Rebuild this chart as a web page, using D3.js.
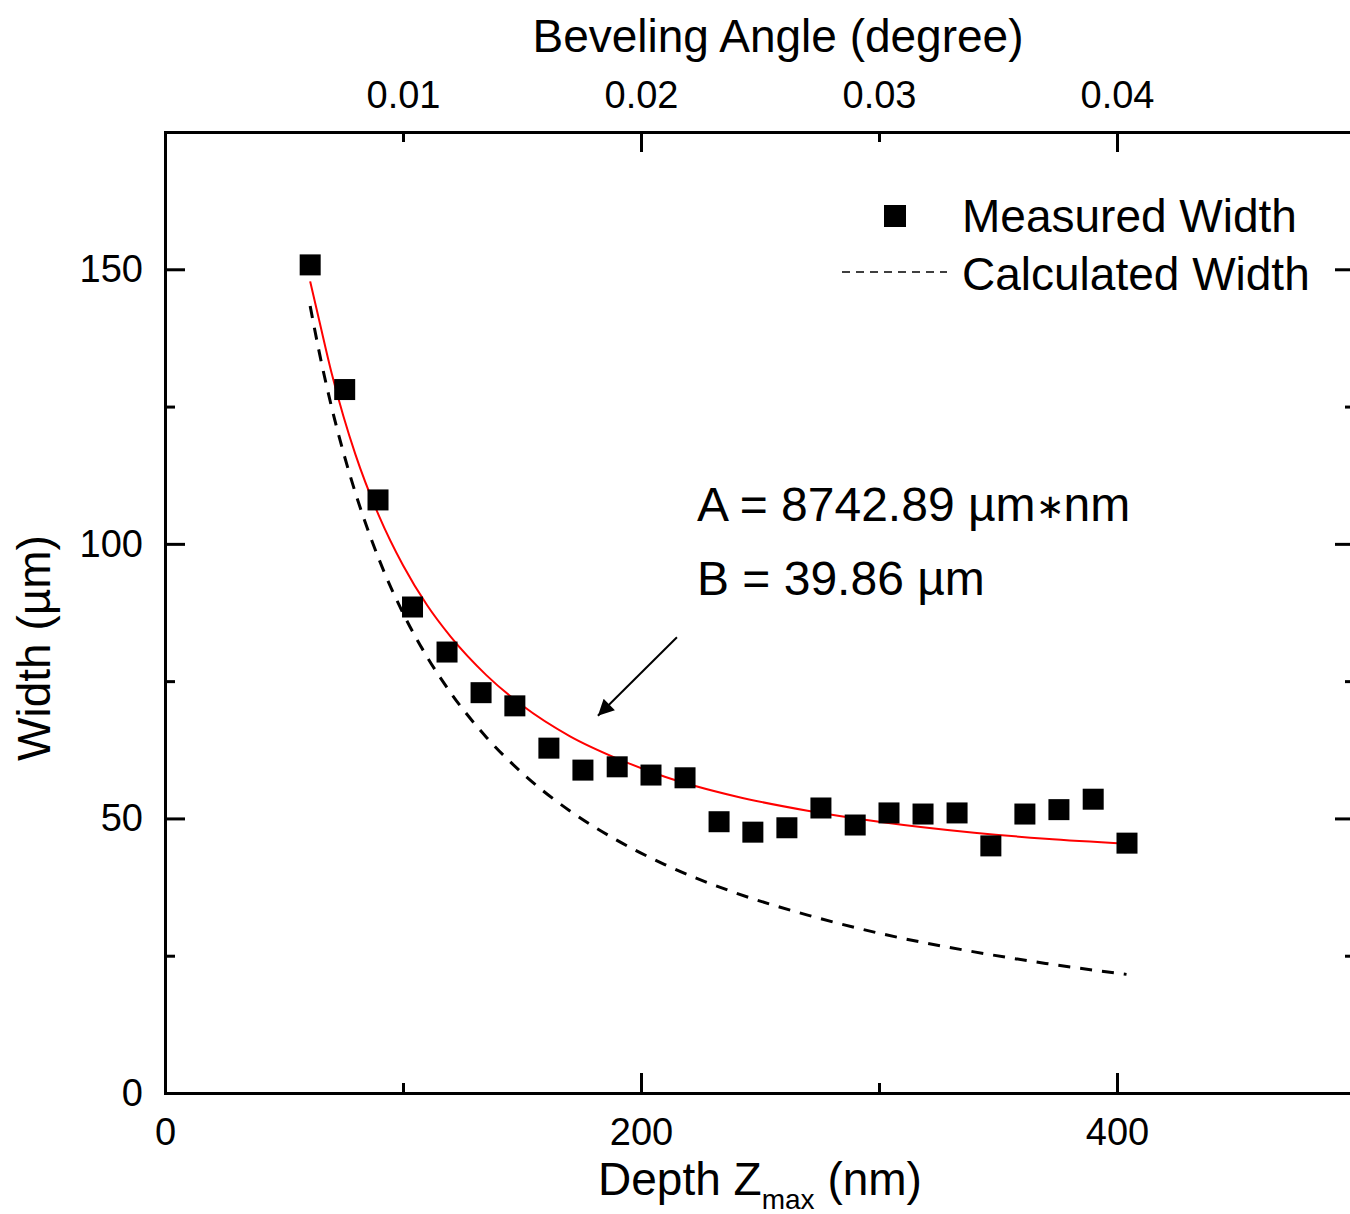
<!DOCTYPE html>
<html lang="en">
<head>
<meta charset="utf-8">
<title>Width vs Depth</title>
<script src="https://cdn.jsdelivr.net/npm/d3@7"></script>
<style>
  body { margin: 0; background: white; }
  svg { display: block; background: white; font-family: "Liberation Sans", Arial, sans-serif; }
  .axis path, .axis line { stroke: black; stroke-width: 3; fill: none; }
  .axis text { font-size: 38px; fill: black; font-family: "Liberation Sans", Arial, sans-serif; }
  .title { font-size: 46px; fill: black; }
</style>
</head>
<body>
<svg id="chart" width="1350" height="1214"></svg>
<script>
// measured points: depth (nm) and width (um)
var depth = [61, 75.5, 89.5, 104, 118.5, 132.8, 147, 161.3, 175.6, 190, 204.2, 218.5, 232.8,
             247, 261.3, 275.6, 290, 304.2, 318.5, 332.8, 347, 361.3, 375.6, 390, 404.2];
var width = [150.8, 128.1, 108.0, 88.5, 80.3, 72.9, 70.5, 62.8, 58.8, 59.4, 57.9, 57.4, 49.4,
             47.5, 48.3, 51.9, 48.8, 51.0, 50.8, 51.0, 45.0, 50.8, 51.6, 53.5, 45.5];

// fit curve (red) and calculated width (dashed)
var curveDepth = [61, 65, 70, 75, 80, 90, 100, 110, 120, 135, 150, 170, 190, 210, 240, 270, 300, 340, 370, 404];
var fitWidth   = [147.8, 140.3, 131.1, 123.2, 116.3, 105.0, 96.1, 88.9, 83.1, 76.1, 70.6, 65.0, 60.9, 57.6, 54.0, 51.4, 49.4, 47.4, 46.3, 45.4];
var calcWidth  = [143.3, 134.5, 124.9, 116.6, 109.3, 97.1, 87.4, 79.5, 72.9, 64.8, 58.3, 51.4, 46.0, 41.6, 36.4, 32.4, 29.1, 25.7, 23.6, 21.6];

var xMajor = [0, 200, 400], xMinor = [100, 300];
var yMajor = [0, 50, 100, 150], yMinor = [25, 75, 125];
var topMajor = [0.02, 0.04], topMinor = [0.01, 0.03];

var plotLeft = 165, plotRight = 1355, plotTop = 132, plotBottom = 1093;

var svg = d3.select("#chart");

var x = d3.scaleLinear().domain([0, 500]).range([plotLeft, plotRight]);
var xTop = d3.scaleLinear().domain([0, 0.05]).range([plotLeft, plotRight]);
var y = d3.scaleLinear().domain([0, 175]).range([plotBottom, plotTop]);

// axes: ticks point inward
svg.append("g").attr("class", "axis")
    .attr("transform", "translate(0," + plotBottom + ")")
    .call(d3.axisBottom(x).tickValues(xMajor).tickSizeInner(-20).tickSizeOuter(0).tickPadding(25).tickFormat(d3.format("d")));
svg.append("g").attr("class", "axis")
    .attr("transform", "translate(0," + plotBottom + ")")
    .call(d3.axisBottom(x).tickValues(xMinor).tickSizeInner(-10).tickSizeOuter(0).tickFormat(""));

svg.append("g").attr("class", "axis")
    .attr("transform", "translate(0," + plotTop + ")")
    .call(d3.axisTop(xTop).tickValues(topMinor.concat(topMajor)).tickSizeInner(0).tickSizeOuter(0).tickPadding(24).tickFormat(d3.format(".2f")));
svg.append("g").attr("class", "axis")
    .attr("transform", "translate(0," + plotTop + ")")
    .call(d3.axisTop(xTop).tickValues(topMajor).tickSizeInner(-20).tickSizeOuter(0).tickFormat(""));
svg.append("g").attr("class", "axis")
    .attr("transform", "translate(0," + plotTop + ")")
    .call(d3.axisTop(xTop).tickValues(topMinor).tickSizeInner(-10).tickSizeOuter(0).tickFormat(""));

svg.append("g").attr("class", "axis")
    .attr("transform", "translate(" + plotLeft + ",0)")
    .call(d3.axisLeft(y).tickValues(yMajor).tickSizeInner(-20).tickSizeOuter(0).tickPadding(22));
svg.append("g").attr("class", "axis")
    .attr("transform", "translate(" + plotLeft + ",0)")
    .call(d3.axisLeft(y).tickValues(yMinor).tickSizeInner(-10).tickSizeOuter(0).tickFormat(""));

svg.append("g").attr("class", "axis")
    .attr("transform", "translate(" + plotRight + ",0)")
    .call(d3.axisRight(y).tickValues(yMajor).tickSizeInner(-20).tickSizeOuter(0).tickFormat(""));
svg.append("g").attr("class", "axis")
    .attr("transform", "translate(" + plotRight + ",0)")
    .call(d3.axisRight(y).tickValues(yMinor).tickSizeInner(-10).tickSizeOuter(0).tickFormat(""));

svg.selectAll(".axis path").attr("stroke-linecap", "square");

// curves
var line = d3.line().curve(d3.curveMonotoneX);

svg.append("path")
    .attr("d", line(curveDepth.map(function(d, i) { return [x(d), y(calcWidth[i])]; })))
    .attr("fill", "none")
    .attr("stroke", "black")
    .attr("stroke-width", 3)
    .attr("stroke-dasharray", "12,10");

svg.append("path")
    .attr("d", line(curveDepth.map(function(d, i) { return [x(d), y(fitWidth[i])]; })))
    .attr("fill", "none")
    .attr("stroke", "#ff0000")
    .attr("stroke-width", 2);

// measured points
var sq = 21;
svg.selectAll("rect.pt")
    .data(depth)
    .enter().append("rect")
    .attr("class", "pt")
    .attr("x", function(d) { return x(d) - sq / 2; })
    .attr("y", function(d, i) { return y(width[i]) - sq / 2; })
    .attr("width", sq)
    .attr("height", sq)
    .attr("fill", "black");

// axis titles
svg.append("text").attr("class", "title")
    .attr("x", 778).attr("y", 52)
    .attr("text-anchor", "middle")
    .text("Beveling Angle (degree)");

var xt = svg.append("text").attr("class", "title")
    .attr("x", 760).attr("y", 1195)
    .attr("text-anchor", "middle");
xt.append("tspan").text("Depth Z");
xt.append("tspan").attr("dy", 14).style("font-size", "28px").text("max");
xt.append("tspan").attr("dy", -14).text(" (nm)");

svg.append("text").attr("class", "title")
    .attr("transform", "translate(50,648) rotate(-90)")
    .attr("text-anchor", "middle")
    .text("Width (\u00b5m)");

// legend
svg.append("rect")
    .attr("x", 884).attr("y", 205).attr("width", 22).attr("height", 22)
    .attr("fill", "black");
svg.append("line")
    .attr("x1", 842).attr("x2", 947).attr("y1", 272).attr("y2", 272)
    .attr("stroke", "black").attr("stroke-width", 1.5)
    .attr("stroke-dasharray", "8,6");
svg.append("text").attr("class", "title")
    .attr("x", 962).attr("y", 232).text("Measured Width");
svg.append("text").attr("class", "title")
    .attr("x", 962).attr("y", 290).text("Calculated Width");

// fit parameters and arrow
var ta = svg.append("text")
    .attr("x", 697).attr("y", 521)
    .style("font-size", "48px");
ta.append("tspan").text("A = 8742.89 \u00b5m");
ta.append("tspan").style("font-size", "34px").attr("dy", -3).text("\u2217");
ta.append("tspan").attr("dy", 3).text("nm");

svg.append("text")
    .attr("x", 697).attr("y", 595)
    .style("font-size", "48px")
    .text("B = 39.86 \u00b5m");

svg.append("defs").append("marker")
    .attr("id", "arrow")
    .attr("viewBox", "0 0 10 10")
    .attr("refX", 10).attr("refY", 5)
    .attr("markerWidth", 26).attr("markerHeight", 16)
    .attr("markerUnits", "userSpaceOnUse")
    .attr("orient", "auto")
    .append("path")
    .attr("d", "M0,0L10,5L0,10Z")
    .attr("fill", "black");

svg.append("line")
    .attr("x1", x(215.1)).attr("y1", y(83.0))
    .attr("x2", x(181.9)).attr("y2", y(68.7))
    .attr("stroke", "black").attr("stroke-width", 2)
    .attr("marker-end", "url(#arrow)");
</script>
</body>
</html>
